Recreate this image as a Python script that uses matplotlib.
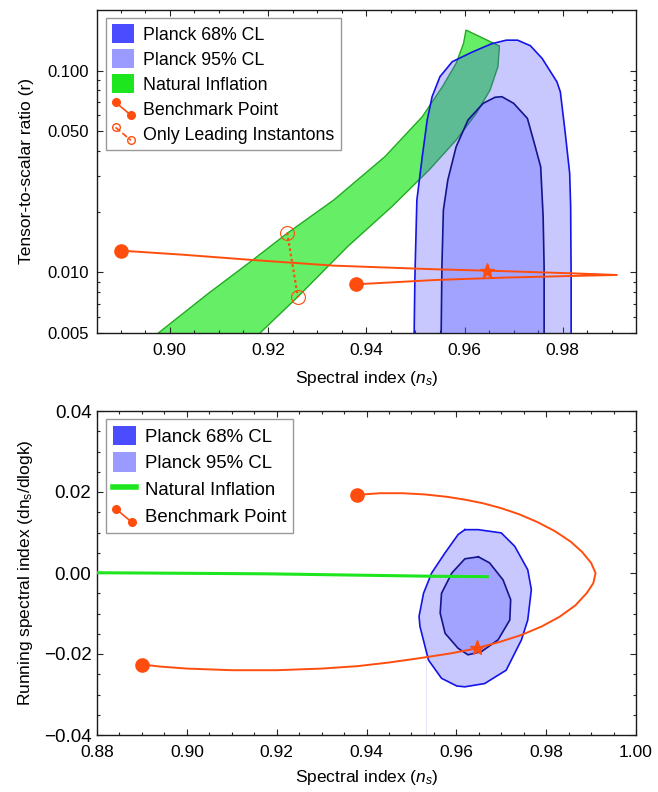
import numpy as np
import matplotlib
matplotlib.use("Agg")
import matplotlib.pyplot as plt
from matplotlib.patches import Patch
from matplotlib.lines import Line2D
from matplotlib.legend_handler import HandlerBase
from matplotlib.ticker import NullFormatter, MultipleLocator

plt.rcParams["font.family"] = ["Liberation Sans", "DejaVu Sans"]
plt.rcParams["mathtext.fontset"] = "custom"
plt.rcParams["mathtext.rm"] = "Liberation Sans"
plt.rcParams["mathtext.it"] = "Liberation Sans:italic"
FS = 12.5      # axis labels / x ticks

# ---------------- data: top panel (n_s, r) ----------------
planck95_top_ns = [0.9497, 0.9499, 0.9503, 0.9514, 0.9524, 0.9534, 0.9550, 0.9575, 0.9615,
                   0.9655, 0.9685, 0.9708, 0.9734, 0.9758, 0.9788, 0.9795, 0.9805, 0.9814,
                   0.9816, 0.9817, 0.9817]
planck95_top_r = [0.004, 0.0094, 0.0228, 0.0375, 0.0569, 0.0743, 0.0934, 0.1108, 0.1235,
                  0.1360, 0.1417, 0.1417, 0.1330, 0.1150, 0.0881, 0.0786, 0.0491, 0.0310,
                  0.0211, 0.0094, 0.004]
planck68_top_ns = [0.9552, 0.9554, 0.9557, 0.9566, 0.9583, 0.9607, 0.9638, 0.9662, 0.9676,
                   0.9700, 0.9728, 0.9742, 0.9755, 0.9760, 0.9762, 0.9762]
planck68_top_r = [0.004, 0.0107, 0.0204, 0.0287, 0.0420, 0.0569, 0.0689, 0.0738, 0.0743,
                  0.0689, 0.0580, 0.0437, 0.0334, 0.0189, 0.0106, 0.004]

# natural inflation band: left edge (bottom -> top), right edge (bottom -> top)
band_left_ns = [0.8962, 0.8976, 0.9079, 0.9169, 0.9239, 0.9334, 0.9438, 0.9514, 0.9555,
                0.9583, 0.9598, 0.9603]
band_left_r = [0.00462, 0.00498, 0.00787, 0.01151, 0.01561, 0.02285, 0.03747, 0.05913,
               0.0833, 0.1088, 0.1366, 0.1591]
band_right_ns = [0.9172, 0.9183, 0.9261, 0.9362, 0.9452, 0.9528, 0.9583, 0.9624, 0.9652,
                 0.9668, 0.9671]
band_right_r = [0.00462, 0.00498, 0.00757, 0.01341, 0.02116, 0.0322, 0.0453, 0.0614,
                0.0802, 0.1047, 0.1325]

# benchmark trajectory in (n_s, r)
bench_top_ns = [0.9379, 0.9541, 0.9679, 0.9817, 0.9910, 0.9817, 0.9646, 0.9541, 0.9334,
                0.9169, 0.9024, 0.8900]
bench_top_r = [0.00872, 0.00916, 0.00941, 0.00959, 0.00970, 0.00989, 0.01019, 0.01035,
               0.01079, 0.01151, 0.01224, 0.01281]
star_ns = 0.9646
star_r = 0.01019
leading_ns = [0.9239, 0.9261]
leading_r = [0.01573, 0.00752]

# ---------------- data: bottom panel (n_s, running) ----------------
planck95_bot_ns = [0.9619, 0.9649, 0.9700, 0.9730, 0.9759, 0.9767, 0.9759, 0.9745, 0.9711,
                   0.9663, 0.9619, 0.9601, 0.9567, 0.9538, 0.9519, 0.9517, 0.9527, 0.9545,
                   0.9575, 0.9604]
planck95_bot_a = [0.0107, 0.0107, 0.0099, 0.0066, 0.0008, -0.0041, -0.0116, -0.0165, -0.0240,
                  -0.0273, -0.0281, -0.0279, -0.0260, -0.0215, -0.0132, -0.0107, -0.0050,
                  0.0000, 0.0050, 0.0095]
planck68_bot_ns = [0.9649, 0.9674, 0.9704, 0.9721, 0.9719, 0.9693, 0.9656, 0.9626, 0.9604,
                   0.9575, 0.9564, 0.9567, 0.9590, 0.9619]
planck68_bot_a = [0.0040, 0.0025, -0.0017, -0.0066, -0.0116, -0.0165, -0.0194, -0.0202,
                  -0.0186, -0.0149, -0.0099, -0.0050, 0.0000, 0.0035]
natural_bot_ns = [0.875, 0.9176, 0.9545, 0.9669]
natural_bot_a = [0.0001, -0.0002, -0.0008, -0.0009]

bench_bot_ns = [0.9379, 0.9430, 0.9480, 0.9530, 0.9580, 0.9620, 0.9660, 0.9700, 0.9740,
                0.9780, 0.9820, 0.9855, 0.9880, 0.9900, 0.9910, 0.9905, 0.9890, 0.9865,
                0.9830, 0.9790, 0.9745, 0.9700, 0.9645, 0.9590, 0.9520, 0.9450, 0.9380,
                0.9300, 0.9200, 0.9100, 0.9000, 0.8940, 0.8901]
bench_bot_a = [0.0193, 0.0197, 0.0197, 0.0194, 0.0188, 0.0181, 0.0172, 0.0160, 0.0145,
               0.0126, 0.0103, 0.0077, 0.0052, 0.0025, 0.0000, -0.0025, -0.0050, -0.0080,
               -0.0108, -0.0132, -0.0153, -0.0169, -0.0186, -0.0198, -0.0210, -0.0221,
               -0.0230, -0.0236, -0.0240, -0.0240, -0.0236, -0.0231, -0.0226]
star_bot_a = -0.0186
faint_ns = [0.9533, 0.9533]
faint_a = [-0.0215, -0.0400]

ORANGE = "#FF4D0D"
GREEN = "#1EE61E"
GREEN_EDGE = "#22AA22"
BLUE = "#4B4BFF"
BLUE95_EDGE = "#1414E6"
BLUE68_EDGE = "#14148C"


class DiagHandler(HandlerBase):
    def create_artists(self, legend, orig_handle, xdescent, ydescent, width, height, fontsize, trans):
        x0 = -xdescent + 0.15 * width
        x1 = -xdescent + 0.85 * width
        y0 = -ydescent + 0.85 * height
        y1 = -ydescent + 0.15 * height
        ln = Line2D([x0, x1], [y0, y1], color=orig_handle.get_color(),
                    ls=orig_handle.get_linestyle(), lw=1.2,
                    marker="o", ms=5.5, mfc=orig_handle.get_markerfacecolor(),
                    mec=orig_handle.get_color(), mew=1.0)
        ln.set_transform(trans)
        return [ln]


fig = plt.figure(figsize=(6.58, 7.92), dpi=100)
ax1 = fig.add_axes([97 / 658, 1 - 333 / 792, 539 / 658, 323 / 792])
ax2 = fig.add_axes([97 / 658, 1 - 735 / 792, 539 / 658, 324 / 792])

# ---------------- top panel ----------------
band_ns = band_left_ns + band_right_ns[::-1]
band_r = band_left_r + band_right_r[::-1]
ax1.fill(band_ns, band_r, facecolor=GREEN, alpha=0.68, edgecolor="none", zorder=1)
ax1.fill(band_ns, band_r, facecolor="none", edgecolor=GREEN_EDGE, lw=1.0, zorder=1.5)
ax1.fill(planck95_top_ns, planck95_top_r, facecolor=BLUE, alpha=0.3, edgecolor="none", zorder=2)
ax1.fill(planck68_top_ns, planck68_top_r, facecolor=BLUE, alpha=0.3, edgecolor="none", zorder=3)
ax1.plot(planck95_top_ns, planck95_top_r, color=BLUE95_EDGE, lw=1.2, zorder=4)
ax1.plot(planck68_top_ns, planck68_top_r, color=BLUE68_EDGE, lw=1.2, zorder=4)

ax1.plot(bench_top_ns, bench_top_r, color=ORANGE, lw=1.4, zorder=5)
ax1.plot([bench_top_ns[0], bench_top_ns[-1]], [bench_top_r[0], bench_top_r[-1]], "o",
         color=ORANGE, ms=9.5, zorder=6)
ax1.plot([star_ns], [star_r], "*", color=ORANGE, ms=11, zorder=6)
ax1.plot(leading_ns, leading_r, ls=(0, (1.2, 1.2)), color=ORANGE, lw=1.6, zorder=5)
ax1.plot(leading_ns, leading_r, "o", mfc="none", mec=ORANGE, ms=10, mew=0.8, zorder=6)

ax1.set_yscale("log")
ax1.set_xlim(0.8852, 0.9949)
ax1.set_ylim(0.005, 0.2)
ax1.set_yticks([0.005, 0.01, 0.05, 0.1], labels=["0.005", "0.010", "0.050", "0.100"])
ax1.set_yticks([0.006, 0.007, 0.008, 0.009, 0.02, 0.03, 0.04, 0.06, 0.07, 0.08, 0.09],
               minor=True)
ax1.yaxis.set_minor_formatter(NullFormatter())
ax1.set_xticks([0.90, 0.92, 0.94, 0.96, 0.98], labels=["0.90", "0.92", "0.94", "0.96", "0.98"])
ax1.xaxis.set_minor_locator(MultipleLocator(0.005))
ax1.set_xlabel(r"Spectral index ($n_s$)", fontsize=FS, labelpad=8)
ax1.set_ylabel("Tensor-to-scalar ratio (r)", fontsize=FS, labelpad=9.5)

h68 = Patch(facecolor="#4B4BFF", edgecolor="none")
h95 = Patch(facecolor="#9B9BFF", edgecolor="none")
hni = Patch(facecolor=GREEN, edgecolor="none")
hbp = Line2D([], [], color=ORANGE, ls="-", mfc=ORANGE)
hli = Line2D([], [], color=ORANGE, ls=(0, (2, 1.5)), mfc="none")
legend_kw = dict(loc="upper left", bbox_to_anchor=(0.0167, 0.975), borderaxespad=0,
                 fancybox=False, framealpha=1, edgecolor="0.6",
                 handlelength=1.24, handleheight=1.22, handletextpad=0.5, borderpad=0.35)
ax1.legend([h68, h95, hni, hbp, hli],
           ["Planck 68% CL", "Planck 95% CL", "Natural Inflation", "Benchmark Point",
            "Only Leading Instantons"],
           handler_map={hbp: DiagHandler(), hli: DiagHandler()},
           fontsize=12.8, labelspacing=0.33, **legend_kw)

# ---------------- bottom panel ----------------
ax2.plot(faint_ns, faint_a, color="#E6E6F8", lw=0.8, zorder=1)
ax2.fill(planck95_bot_ns, planck95_bot_a, facecolor=BLUE, alpha=0.3, edgecolor="none", zorder=2)
ax2.fill(planck68_bot_ns, planck68_bot_a, facecolor=BLUE, alpha=0.3, edgecolor="none", zorder=3)
ax2.plot(planck95_bot_ns + planck95_bot_ns[:1], planck95_bot_a + planck95_bot_a[:1],
         color=BLUE95_EDGE, lw=1.2, zorder=4)
ax2.plot(planck68_bot_ns + planck68_bot_ns[:1], planck68_bot_a + planck68_bot_a[:1],
         color=BLUE68_EDGE, lw=1.2, zorder=4)
ax2.plot(natural_bot_ns, natural_bot_a, color=GREEN, lw=2.2, zorder=5)
ax2.plot(bench_bot_ns, bench_bot_a, color=ORANGE, lw=1.4, zorder=5)
ax2.plot([bench_bot_ns[0], bench_bot_ns[-1]], [bench_bot_a[0], bench_bot_a[-1]], "o",
         color=ORANGE, ms=9.5, zorder=6)
ax2.plot([star_ns], [star_bot_a], "*", color=ORANGE, ms=11, zorder=6)

ax2.set_xlim(0.88, 1.00)
ax2.set_ylim(-0.04, 0.04)
ax2.set_xticks([0.88, 0.90, 0.92, 0.94, 0.96, 0.98, 1.00],
               labels=["0.88", "0.90", "0.92", "0.94", "0.96", "0.98", "1.00"])
ax2.xaxis.set_minor_locator(MultipleLocator(0.005))
ax2.set_yticks([-0.04, -0.02, 0.0, 0.02, 0.04],
               labels=["\u22120.04", "\u22120.02", "0.00", "0.02", "0.04"])
ax2.yaxis.set_minor_locator(MultipleLocator(0.005))
ax2.set_xlabel(r"Spectral index ($n_s$)", fontsize=FS, labelpad=6)
ax2.set_ylabel(r"Running spectral index (dn$_\mathrm{s}$/dlogk)", fontsize=FS, labelpad=6.5)

hni2 = Line2D([], [], color=GREEN, lw=4)
ax2.legend([h68, h95, hni2, hbp],
           ["Planck 68% CL", "Planck 95% CL", "Natural Inflation", "Benchmark Point"],
           handler_map={hbp: DiagHandler()}, fontsize=13.4, labelspacing=0.37, **legend_kw)

for ax in (ax1, ax2):
    ax.tick_params(which="both", direction="in", top=True, right=True,
                   width=0.8, color="0.15")
    ax.tick_params(which="major", length=4)
    ax.tick_params(which="minor", length=2.3)
    ax.tick_params(axis="x", which="major", labelsize=FS, pad=7)
    for sp in ax.spines.values():
        sp.set_linewidth(1.0)
        sp.set_color("0.1")
ax1.tick_params(axis="y", which="major", labelsize=12, pad=6)
ax2.tick_params(axis="y", which="major", labelsize=13.5, pad=4)

fig.savefig("out.png", dpi=100)
